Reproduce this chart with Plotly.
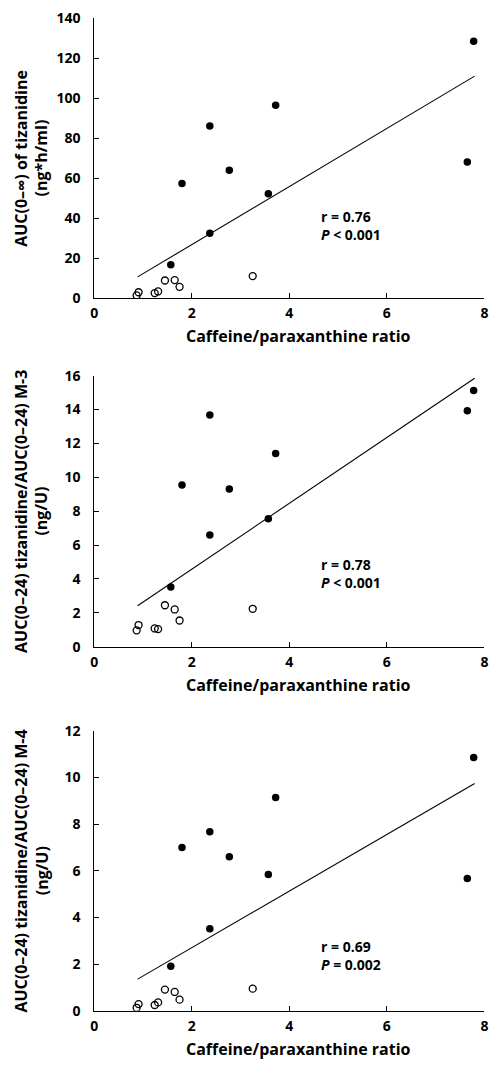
import plotly.graph_objects as go

W, H = 494, 1066

# x values (caffeine/paraxanthine ratio)
x_filled = [1.57, 1.80, 2.37, 2.37, 2.77, 3.57, 3.72, 7.65, 7.78]
x_open = [0.91, 0.87, 1.24, 1.31, 1.45, 1.65, 1.75, 3.25]

# Panel 1: AUC(0-inf) of tizanidine
p1_filled = [16.7, 57.3, 86.1, 32.4, 63.9, 52.2, 96.4, 68.0, 128.4]
p1_open = [2.9, 1.3, 2.5, 3.3, 8.8, 9.0, 5.6, 11.0]
p1_fit_x = [0.89, 7.80]
p1_fit_y = [10.6, 111.0]

# Panel 2: AUC tizanidine / AUC M-3
p2_filled = [3.52, 9.55, 13.68, 6.59, 9.31, 7.56, 11.40, 13.93, 15.13]
p2_open = [1.28, 0.97, 1.08, 1.04, 2.45, 2.20, 1.55, 2.24]
p2_fit_x = [0.89, 7.80]
p2_fit_y = [2.42, 15.85]

# Panel 3: AUC tizanidine / AUC M-4
p3_filled = [1.91, 7.00, 7.68, 3.52, 6.61, 5.85, 9.15, 5.67, 10.86]
p3_open = [0.29, 0.13, 0.25, 0.36, 0.91, 0.81, 0.48, 0.95]
p3_fit_x = [0.89, 7.80]
p3_fit_y = [1.36, 9.75]

y_titles_1 = [
    "AUC(0–∞) of tizanidine",
    "AUC(0–24) tizanidine/AUC(0–24) M-3",
    "AUC(0–24) tizanidine/AUC(0–24) M-4",
]
y_titles_2 = ["(ng*h/ml)", "(ng/U)", "(ng/U)"]
stats = ["r = 0.76<br><i>P</i> < 0.001", "r = 0.78<br><i>P</i> < 0.001", "r = 0.69<br><i>P</i> = 0.002"]
stat_y = [36.5, 4.32, 2.37]
x_title = "Caffeine/paraxanthine ratio"
y_ranges = [(0, 140, 20), (0, 16, 2), (0, 12, 2)]

# pixel geometry of plot areas (top, bottom)
px_rows = [(8.3, 293.3), (372.3, 648.3), (734.0, 1019.0)]
x_left, x_right = 91.7, 488.3

FONT = "Open Sans"
fig = go.Figure()

panels = [
    (p1_filled, p1_open, p1_fit_x, p1_fit_y),
    (p2_filled, p2_open, p2_fit_x, p2_fit_y),
    (p3_filled, p3_open, p3_fit_x, p3_fit_y),
]

for i, (yf, yo, fx, fy) in enumerate(panels):
    n = "" if i == 0 else str(i + 1)
    xa, ya = "x" + n, "y" + n
    fig.add_trace(go.Scatter(x=fx, y=fy, mode="lines", line=dict(color="black", width=1.1),
                             xaxis=xa, yaxis=ya, showlegend=False, hoverinfo="skip"))
    fig.add_trace(go.Scatter(x=x_open, y=yo, mode="markers",
                             marker=dict(symbol="circle-open", size=7, color="black", line=dict(width=1.3)),
                             xaxis=xa, yaxis=ya, showlegend=False))
    fig.add_trace(go.Scatter(x=x_filled, y=yf, mode="markers",
                             marker=dict(symbol="circle", size=7.5, color="black"),
                             xaxis=xa, yaxis=ya, showlegend=False))
    top, bot = px_rows[i]
    ymin, ymax, dt = y_ranges[i]
    axis_common = dict(showgrid=False, zeroline=False, showline=True, linecolor="black", linewidth=1,
                       ticks="inside", ticklen=5, tickcolor="black", tickwidth=1,
                       ticklabeloverflow="allow",
                       tickfont=dict(family=FONT, size=14, color="black", weight="bold"))
    fig.update_layout(**{
        ("xaxis" + n): dict(domain=[x_left / W, x_right / W], range=[0, 8], tickvals=[0, 2, 4, 6, 8],
                            anchor=ya, ticklabelstandoff=2, **axis_common),
        ("yaxis" + n): dict(domain=[1 - bot / H, 1 - top / H], range=[ymin, ymax],
                            tickvals=list(range(ymin, ymax + 1, dt)), anchor=xa,
                            ticklabelstandoff=10, **axis_common),
    })
    ymid = 1 - (top + bot) / 2 / H
    # y-axis title (two lines)
    fig.add_annotation(xref="paper", yref="paper", x=17 / W, y=ymid,
                       text="<b>" + y_titles_1[i] + "</b>", textangle=-90, showarrow=False,
                       xanchor="center", yanchor="middle",
                       font=dict(family=FONT, size=16, color="black"))
    fig.add_annotation(xref="paper", yref="paper", x=38 / W, y=ymid,
                       text="<b>" + y_titles_2[i] + "</b>", textangle=-90, showarrow=False,
                       xanchor="center", yanchor="middle",
                       font=dict(family=FONT, size=16, color="black"))
    # x-axis title
    fig.add_annotation(xref="paper", yref="paper", x=299 / W, y=1 - (bot + 38.5) / H,
                       text="<b>" + x_title + "</b>", showarrow=False,
                       xanchor="center", yanchor="middle",
                       font=dict(family=FONT, size=16, color="black"))
    # stats text
    fig.add_annotation(xref=xa, yref=ya, x=4.6, y=stat_y[i], text="<b>" + stats[i] + "</b>",
                       showarrow=False, xanchor="left", yanchor="middle", align="left",
                       font=dict(family=FONT, size=14, color="black"))

fig.update_layout(width=W, height=H, margin=dict(l=0, r=0, t=0, b=0),
                  plot_bgcolor="white", paper_bgcolor="white")
fig.write_html("out.html", config={"displayModeBar": False},
               post_script="document.body.style.margin='0';document.body.style.overflow='hidden';")
